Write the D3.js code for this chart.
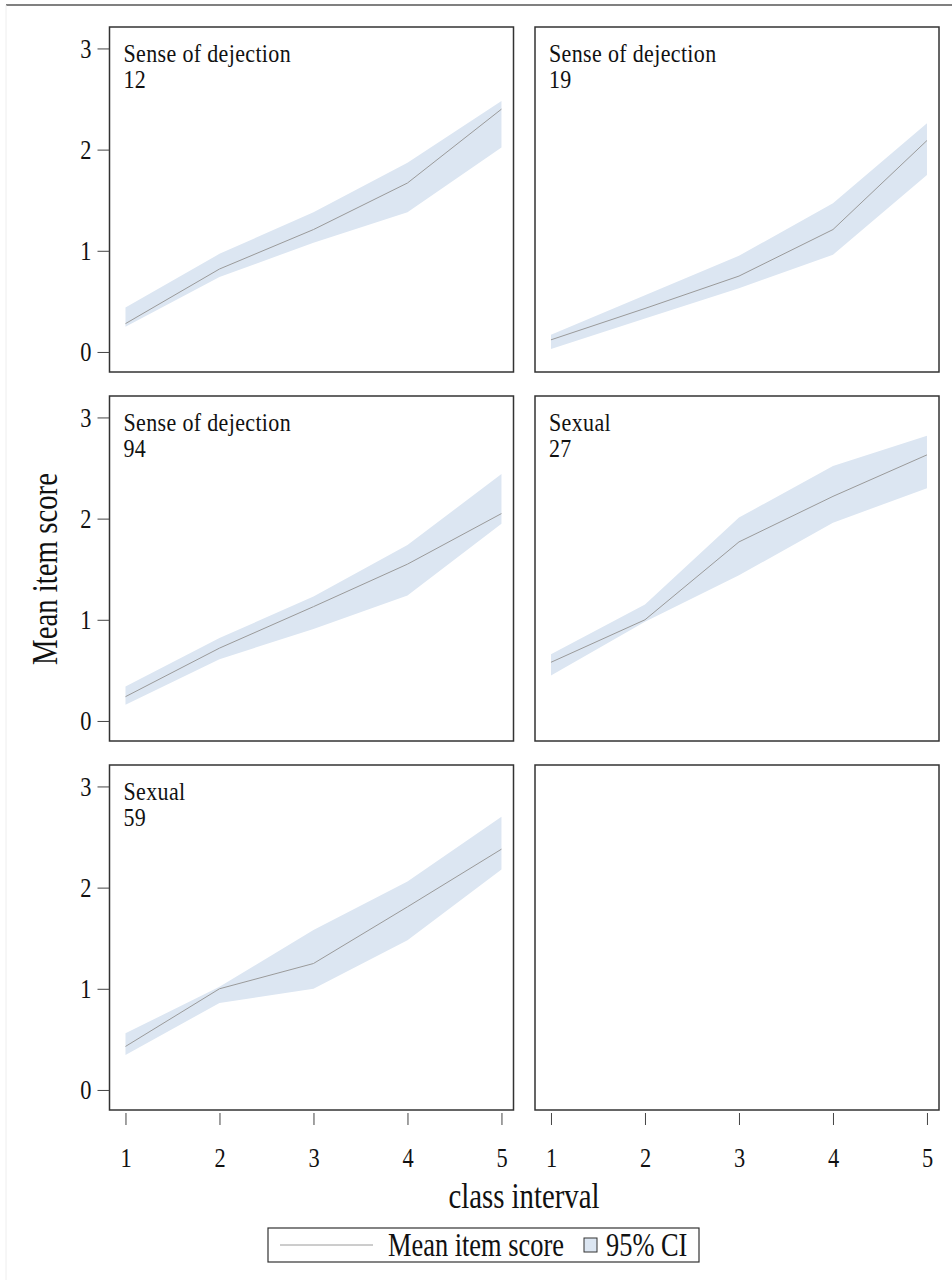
<!DOCTYPE html>
<html>
<head>
<meta charset="utf-8">
<script src="https://cdn.jsdelivr.net/npm/d3@7"></script>
<style>
  body { margin: 0; background: #fff; }
  svg text, svg tspan { font-family: "Liberation Serif", "DejaVu Serif", serif !important; fill: #111; }
</style>
</head>
<body>
<div id="chart"></div>
<script>
// ---- data ----
const classIntervals = [1, 2, 3, 4, 5]
const yTickValues = [0, 1, 2, 3]
const panelGroups = ["Sense of dejection", "Sense of dejection", "Sense of dejection", "Sexual", "Sexual"]
const panelItems = ["12", "19", "94", "27", "59"]
const meanScores = [
    [0.28, 0.82, 1.21, 1.67, 2.40],
    [0.12, 0.43, 0.75, 1.21, 2.09],
    [0.24, 0.72, 1.13, 1.55, 2.05],
    [0.58, 1.00, 1.77, 2.22, 2.63],
    [0.43, 1.00, 1.25, 1.81, 2.38]
]
const ciLower = [
    [0.25, 0.74, 1.08, 1.38, 2.02],
    [0.03, 0.33, 0.63, 0.96, 1.75],
    [0.16, 0.61, 0.91, 1.24, 1.95],
    [0.45, 0.98, 1.44, 1.96, 2.30],
    [0.345, 0.86, 1.00, 1.48, 2.18]
]
const ciUpper = [
    [0.44, 0.97, 1.38, 1.87, 2.48],
    [0.17, 0.56, 0.95, 1.47, 2.26],
    [0.34, 0.82, 1.23, 1.74, 2.44],
    [0.66, 1.15, 2.01, 2.52, 2.82],
    [0.56, 1.02, 1.58, 2.06, 2.70]
]

// ---- layout ----
const svg_width = 952, svg_height = 1280
const panel = { w: 404, h: 345 }
const colX = [109.5, 535]
const rowY = [27, 396, 765]
const bandColor = "#dce6f2", lineColor = "#9a9a9a", borderColor = "#333"
const serif = "'Liberation Serif', 'DejaVu Serif', serif"

const svg = d3.select("#chart").append("svg")
    .attr("width", svg_width)
    .attr("height", svg_height)
    .style("font-family", serif)

// page frame lines
svg.append("line").attr("x1", 6).attr("x2", svg_width).attr("y1", 5).attr("y2", 5)
    .attr("stroke", "#808080").attr("stroke-width", 2)
svg.append("line").attr("x1", 6).attr("x2", 6).attr("y1", 5).attr("y2", svg_height)
    .attr("stroke", "#eeeeee").attr("stroke-width", 1)

const xScale = d3.scaleLinear().domain([0.83, 5.128]).range([0, panel.w])
const yScale = d3.scaleLinear().domain([-0.198, 3.212]).range([panel.h, 0])

const area = d3.area()
    .x((d, i) => xScale(classIntervals[i]))
    .y0(d => yScale(d[0]))
    .y1(d => yScale(d[1]))
const line = d3.line()
    .x((d, i) => xScale(classIntervals[i]))
    .y(d => yScale(d))

// squeeze text horizontally a bit, like the narrow font of the original
function squeeze(sel, s) {
    sel.each(function() {
        const t = d3.select(this)
        const x = +t.attr("x") || 0
        t.attr("x", x / s).attr("transform", "scale(" + s + ",1)")
    })
}

for (let r = 0; r < 3; r++) {
    for (let c = 0; c < 2; c++) {
        const k = r * 2 + c
        const g = svg.append("g")
            .attr("transform", "translate(" + colX[c] + "," + rowY[r] + ")")

        if (k < meanScores.length) {
            const band = ciLower[k].map((lo, i) => [lo, ciUpper[k][i]])
            g.append("path").datum(band)
                .attr("d", area)
                .attr("fill", bandColor)
            g.append("path").datum(meanScores[k])
                .attr("d", line)
                .attr("fill", "none")
                .attr("stroke", lineColor)
                .attr("stroke-width", 1)

            const lab = g.append("text")
                .style("font-family", serif)
                .attr("font-size", 25)
                .attr("letter-spacing", 0.4)
            lab.append("tspan").attr("x", 14 / 0.88).attr("y", 35).text(panelGroups[k])
            lab.append("tspan").attr("x", 14 / 0.88).attr("y", 61).text(panelItems[k])
            lab.attr("transform", "scale(0.88,1)")
        }

        g.append("rect")
            .attr("width", panel.w).attr("height", panel.h)
            .attr("fill", "none")
            .attr("stroke", borderColor)
            .attr("stroke-width", 1.5)

        // y axis on the left column
        if (c == 0) {
            const ya = g.append("g")
                .call(d3.axisLeft(yScale).tickValues(yTickValues).tickFormat(d3.format("d"))
                    .tickSize(12).tickPadding(6))
                .attr("font-family", null)
            ya.select(".domain").remove()
            ya.selectAll("line").attr("stroke", "#444")
            ya.selectAll("text")
                .attr("font-size", 28)
                .style("font-family", serif)
                .attr("fill", "#111")
                .call(squeeze, 0.8)
        }

        // x axis under the bottom row
        if (r == 2) {
            const xa = g.append("g")
                .attr("transform", "translate(0," + (panel.h + 3) + ")")
                .call(d3.axisBottom(xScale).tickValues(classIntervals).tickFormat(d3.format("d"))
                    .tickSize(12).tickPadding(22))
                .attr("font-family", null)
            xa.select(".domain").remove()
            xa.selectAll("line").attr("stroke", "#444")
            xa.selectAll("text")
                .attr("font-size", 28)
                .style("font-family", serif)
                .attr("fill", "#111")
                .call(squeeze, 0.8)
        }
    }
}

// axis titles
svg.append("text")
    .attr("transform", "translate(524,1208) scale(0.8,1)")
    .attr("text-anchor", "middle")
    .attr("font-size", 36)
    .style("font-family", serif)
    .text("class interval")

svg.append("text")
    .attr("transform", "translate(57,569) rotate(-90) scale(0.8,1)")
    .attr("text-anchor", "middle")
    .attr("font-size", 36)
    .style("font-family", serif)
    .text("Mean item score")

// legend
const legend = svg.append("g").attr("transform", "translate(268,1228)")
legend.append("rect")
    .attr("width", 431).attr("height", 34)
    .attr("fill", "#fff").attr("stroke", "#333").attr("stroke-width", 1.2)
legend.append("line")
    .attr("x1", 12).attr("x2", 105).attr("y1", 17).attr("y2", 17)
    .attr("stroke", lineColor).attr("stroke-width", 1)
legend.append("text")
    .attr("transform", "translate(120,28) scale(0.8,1)")
    .attr("font-size", 33)
    .style("font-family", serif)
    .text("Mean item score")
legend.append("rect")
    .attr("x", 316).attr("y", 10).attr("width", 13).attr("height", 14)
    .attr("fill", bandColor).attr("stroke", "#333").attr("stroke-width", 1)
legend.append("text")
    .attr("transform", "translate(338,28) scale(0.8,1)")
    .attr("font-size", 33)
    .style("font-family", serif)
    .text("95% CI")
</script>
</body>
</html>
